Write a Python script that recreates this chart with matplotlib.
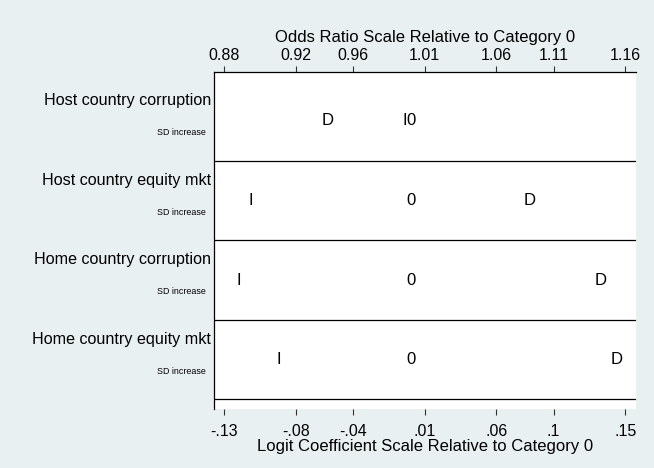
import numpy as np
import matplotlib
matplotlib.use("Agg")
import matplotlib.pyplot as plt

plt.rcParams['font.family'] = ['Liberation Sans', 'DejaVu Sans']

# variables, top to bottom
variables = ["Host country corruption", "Host country equity mkt",
             "Home country corruption", "Home country equity mkt"]
unit_label = "SD increase"

# logit coefficients relative to category 0
coef_D = [-0.058, 0.083, 0.133, 0.144]
coef_I = [-0.004, -0.111, -0.120, -0.092]
coef_0 = [0.0, 0.0, 0.0, 0.0]

# axis ticks (logit scale) and their labels
logit_ticks = [-0.13, -0.08, -0.04, 0.01, 0.06, 0.10, 0.15]
logit_labels = ["-.13", "-.08", "-.04", ".01", ".06", ".1", ".15"]
odds_labels = ["0.88", "0.92", "0.96", "1.01", "1.06", "1.11", "1.16"]

bg = "#e9f0f2"
fig = plt.figure(figsize=(6.54, 4.68), dpi=100, facecolor=bg)
ax = fig.add_axes([0.3268, 1 - 409 / 468, 0.9725 - 0.3268, (409 - 71.7) / 468])
ax.set_facecolor("white")

n = len(variables)
rows = [n - i for i in range(n)]  # y positions, top row highest

for y, d, i0, z in zip(rows, coef_D, coef_I, coef_0):
    ax.text(d, y, "D", ha="center", va="center", fontsize=12)
    ax.text(i0, y, "I", ha="center", va="center", fontsize=12)
    ax.text(z + 0.0006, y, "0", ha="center", va="center", fontsize=12)

for y in rows:
    ax.axhline(y - 0.5, color="black", lw=0.9)

for y, name in zip(rows, variables):
    ax.annotate(name, xy=(0, y), xycoords=("axes fraction", "data"),
                xytext=(-2, 14.6), textcoords="offset points",
                ha="right", va="center", fontsize=11.6)
    ax.annotate(unit_label, xy=(0, y), xycoords=("axes fraction", "data"),
                xytext=(-6, -8.4), textcoords="offset points",
                ha="right", va="center", fontsize=6.4)

ax.set_xlim(-0.1372, 0.1575)
ax.set_ylim(0.378, 4.62)
ax.set_yticks([])

for s in ["right", "bottom"]:
    ax.spines[s].set_visible(False)
for s in ["left", "top"]:
    ax.spines[s].set_linewidth(0.9)

ax.set_xticks(logit_ticks)
ax.set_xticklabels(logit_labels, fontsize=11.5)
ax.tick_params(axis="x", direction="out", length=4, width=0.8, pad=6.5, color="#333333")
ax.set_xlabel("Logit Coefficient Scale Relative to Category 0", fontsize=12, labelpad=0)

top = ax.secondary_xaxis("top", functions=(np.exp, np.log))
top.set_xticks(np.exp(logit_ticks))
top.set_xticklabels(odds_labels, fontsize=11.5)
top.tick_params(axis="x", direction="out", length=4, width=0.8, pad=2.5, color="#333333")
top.spines["top"].set_visible(False)
top.set_xlabel("Odds Ratio Scale Relative to Category 0", fontsize=12, labelpad=4)

fig.savefig("out.png", dpi=100, facecolor=bg)
